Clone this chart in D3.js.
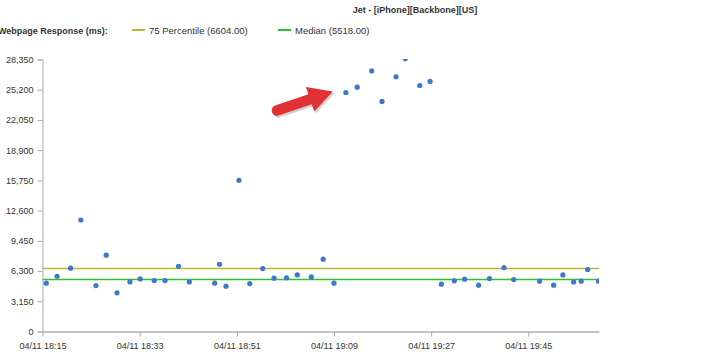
<!DOCTYPE html>
<html>
<head>
<meta charset="utf-8">
<script src="https://cdn.jsdelivr.net/npm/d3@7"></script>
<style>
	body { margin: 0; background: #fff; }
	svg { display: block; font-family: "Liberation Sans", Arial, sans-serif; }
</style>
</head>
<body>
<svg id="chart" width="705" height="359"></svg>
<script>
var TIMES = [
	'18:15:42', '18:17:42', '18:20:12', '18:22:06', '18:24:54', '18:26:48', '18:28:48', '18:31:12',
	'18:33:06', '18:35:42', '18:37:42', '18:40:12', '18:42:12', '18:46:54', '18:47:48', '18:49:00',
	'18:51:24', '18:53:24', '18:55:48', '18:57:54', '19:00:12', '19:02:12', '19:04:48', '19:07:00',
	'19:09:00', '19:11:12', '19:13:18', '19:16:00', '19:17:54', '19:20:30', '19:22:12', '19:24:54',
	'19:26:48', '19:28:54', '19:31:18', '19:33:12', '19:35:48', '19:37:48', '19:40:30', '19:42:18',
	'19:47:06', '19:49:42', '19:51:24', '19:53:24', '19:54:48', '19:56:00', '19:58:00'
];
var RESPONSE = [
	5040, 5760, 6600, 11620, 4790, 7950, 4030, 5170,
	5480, 5310, 5310, 6800, 5170, 5040, 7010, 4720,
	15760, 4990, 6560, 5560, 5590, 5900, 5690, 7540,
	5040, 24910, 25470, 27160, 23980, 26540, 28420, 25640,
	26070, 4930, 5280, 5450, 4830, 5520, 6660, 5410,
	5250, 4830, 5900, 5170, 5250, 6450, 5250
];
var Y_TICKS = [0, 3150, 6300, 9450, 12600, 15750, 18900, 22050, 25200, 28350];
var X_TICKS = ['04/11 18:15', '04/11 18:33', '04/11 18:51', '04/11 19:09', '04/11 19:27', '04/11 19:45'];
var REF_NAMES = ['75 Percentile', 'Median'];
var REF_VALUES = [6604.00, 5518.00];
var REF_COLORS = ['#b8b832', '#2fc02f'];

CHART = {
	init: function() {
		var svg = d3.select('#chart');
		var left = 42.5, right = 599, top = 59.5, bottom = 331.5;
		var parse = d3.timeParse('%m/%d %H:%M:%S');
		var tickParse = d3.timeParse('%m/%d %H:%M');

		var x = d3.scaleTime()
			.domain([tickParse('04/11 18:15'), parse('04/11 19:58:06')])
			.range([left, right]);
		var y = d3.scaleLinear()
			.domain([0, 28350])
			.range([bottom, top]);

		var points = TIMES.map(function(t, i) {
			return { t: parse('04/11 ' + t), v: RESPONSE[i] };
		});

		svg.append('defs').append('clipPath')
			.attr('id', 'plot-clip')
			.append('rect')
			.attr('x', left)
			.attr('y', top - 0.5)
			.attr('width', right - left)
			.attr('height', bottom - top + 1);

		// title + legend
		svg.append('text')
			.attr('x', 415)
			.attr('y', 13)
			.attr('text-anchor', 'middle')
			.attr('font-size', '9px')
			.attr('font-weight', 'bold')
			.attr('fill', '#333')
			.text('Jet - [iPhone][Backbone][US]');

		svg.append('text')
			.attr('x', -2)
			.attr('y', 34)
			.attr('font-size', '9px')
			.attr('font-weight', 'bold')
			.attr('fill', '#333')
			.text('Webpage Response (ms):');

		var legendX = [132, 278];
		var legend = svg.selectAll('g.legend')
			.data(REF_NAMES)
			.enter()
			.append('g')
			.attr('class', 'legend')
			.attr('transform', function(d, i) {
				return 'translate(' + legendX[i] + ',30)';
			});
		legend.append('line')
			.attr('x1', 0)
			.attr('x2', 13)
			.attr('stroke', function(d, i) { return REF_COLORS[i]; })
			.attr('stroke-width', 2);
		legend.append('text')
			.attr('x', 17)
			.attr('y', 4)
			.attr('font-size', '9.5px')
			.attr('fill', '#333')
			.text(function(d, i) {
				return d + ' (' + REF_VALUES[i].toFixed(2) + ')';
			});

		// axes
		var yAxis = svg.append('g')
			.attr('transform', 'translate(' + left + ',0)')
			.call(d3.axisLeft(y).tickValues(Y_TICKS).tickSize(5).tickPadding(4).tickFormat(d3.format(',')));
		yAxis.select('.domain').attr('stroke', '#aaa');
		yAxis.selectAll('.tick line').attr('stroke', '#aaa');
		yAxis.selectAll('text').attr('font-size', '9px').attr('fill', '#333').attr('font-family', null);

		var xAxis = svg.append('g')
			.attr('transform', 'translate(0,' + bottom + ')')
			.call(d3.axisBottom(x)
				.tickValues(X_TICKS.map(function(s) { return tickParse(s); }))
				.tickSizeInner(5)
				.tickSizeOuter(0)
				.tickPadding(6)
				.tickFormat(d3.timeFormat('%m/%d %H:%M')));
		xAxis.select('.domain').attr('stroke', '#c4c4c4').attr('stroke-width', 2);
		xAxis.selectAll('.tick line').attr('stroke', '#aaa');
		xAxis.selectAll('text').attr('font-size', '9px').attr('fill', '#333').attr('font-family', null);

		// reference lines
		svg.selectAll('line.ref')
			.data(REF_VALUES)
			.enter()
			.append('line')
			.attr('class', 'ref')
			.attr('x1', left)
			.attr('x2', right)
			.attr('y1', function(d) { return Math.round(y(d)) + 0.5; })
			.attr('y2', function(d) { return Math.round(y(d)) + 0.5; })
			.attr('stroke', function(d, i) { return REF_COLORS[i]; })
			.attr('stroke-width', 1.5);

		// dots
		svg.append('g')
			.attr('clip-path', 'url(#plot-clip)')
			.selectAll('circle')
			.data(points)
			.enter()
			.append('circle')
			.attr('cx', function(d) { return x(d.t); })
			.attr('cy', function(d) { return y(d.v); })
			.attr('r', 2.6)
			.attr('fill', '#3d78cc');

		// red arrow pointing at the spike
		var tipX = x(points[25].t) - 13, tipY = y(points[25].v) - 1;
		var dx = -56, dy = 19;
		var len = Math.sqrt(dx * dx + dy * dy);
		var ux = -dx / len, uy = -dy / len, nx = -uy, ny = ux;
		var headLen = 24, headW = 13, shaftW = 5.2;
		var tailX = tipX + dx, tailY = tipY + dy;
		var bx = tipX - ux * headLen, by = tipY - uy * headLen;
		var arrow = [
			[tailX + nx * shaftW, tailY + ny * shaftW],
			[bx + nx * shaftW, by + ny * shaftW],
			[bx + nx * headW, by + ny * headW],
			[tipX, tipY],
			[bx - nx * headW, by - ny * headW],
			[bx - nx * shaftW, by - ny * shaftW],
			[tailX - nx * shaftW, tailY - ny * shaftW]
		];
		var arrowPath = 'M' + arrow.join('L') + 'A' + shaftW + ',' + shaftW + ' 0 0,0 ' + arrow[0].join(',') + 'Z';
		svg.append('path')
			.attr('d', arrowPath)
			.attr('transform', 'translate(1.5,2)')
			.attr('fill', '#000')
			.attr('opacity', 0.18);
		svg.append('path')
			.attr('d', arrowPath)
			.attr('fill', '#e03232');
	}
};

CHART.init();
</script>
</body>
</html>
